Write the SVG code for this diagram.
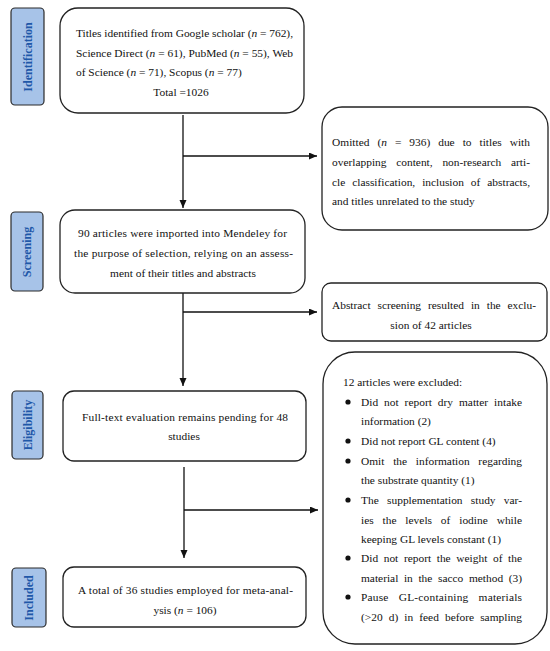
<svg xmlns="http://www.w3.org/2000/svg" width="550" height="651" viewBox="0 0 550 651">
<defs>
<style>
.box{fill:#fff;stroke:#222;stroke-width:1.3}
.lab{fill:#a7c3e8;stroke:#2a2a2a;stroke-width:1.2}
.lt{font-family:"Liberation Serif",serif;font-weight:bold;font-size:12px;fill:#1f58a8;text-anchor:middle}
.t{font-family:"Liberation Serif",serif;font-size:11.4px;fill:#111}
.c{text-anchor:middle}
.con{fill:none;stroke:#111;stroke-width:1.3}
</style>
<marker id="ah" markerUnits="userSpaceOnUse" markerWidth="9" markerHeight="8" refX="8" refY="3.5" orient="auto">
<path d="M0,0 L8,3.5 L0,7 z" fill="#111"/>
</marker>
</defs>
<rect width="550" height="651" fill="#fff"/>

<g id="label-identification">
<rect class="lab" x="11" y="8" width="33" height="97" rx="4"/>
<text class="lt" transform="translate(31.5,57) rotate(-90)">Identification</text>
</g>
<g id="label-screening">
<rect class="lab" x="11" y="212" width="32" height="79" rx="4"/>
<text class="lt" transform="translate(31,252) rotate(-90)">Screening</text>
</g>
<g id="label-eligibility">
<rect class="lab" x="12" y="391" width="31" height="68" rx="4"/>
<text class="lt" transform="translate(31.5,425) rotate(-90)">Eligibility</text>
</g>
<g id="label-included">
<rect class="lab" x="12" y="568" width="34" height="59" rx="4"/>
<text class="lt" transform="translate(33,598) rotate(-90)">Included</text>
</g>

<g id="connectors">
<path class="con" d="M183,115 V208" marker-end="url(#ah)"/>
<path class="con" d="M183,156 H317" marker-end="url(#ah)"/>
<path class="con" d="M183,293 V386" marker-end="url(#ah)"/>
<path class="con" d="M183,312 H317" marker-end="url(#ah)"/>
<path class="con" d="M184,467 V558" marker-end="url(#ah)"/>
<path class="con" d="M184,510 H318" marker-end="url(#ah)"/>
</g>

<g id="node-identified">
<rect class="box" x="60" y="8" width="244" height="105" rx="18"/>
<text class="t" x="76" y="37" textLength="217" lengthAdjust="spacing">Titles identified from Google scholar (<tspan font-style="italic">n</tspan> = 762),</text>
<text class="t" x="76" y="57" textLength="217" lengthAdjust="spacing">Science Direct (<tspan font-style="italic">n</tspan> = 61), PubMed (<tspan font-style="italic">n</tspan> = 55), Web</text>
<text class="t" x="76" y="76">of Science (<tspan font-style="italic">n</tspan> = 71), Scopus (<tspan font-style="italic">n</tspan> = 77)</text>
<text class="t c" x="181" y="96">Total =1026</text>
</g>

<g id="node-omitted">
<rect class="box" x="322" y="107" width="226" height="123" rx="20"/>
<text class="t" x="332" y="146" word-spacing="5.1" textLength="198" lengthAdjust="spacing">Omitted (<tspan font-style="italic">n</tspan> = 936) due to titles with</text>
<text class="t" x="332" y="166" word-spacing="6.9" textLength="198" lengthAdjust="spacing">overlapping content, non-research arti-</text>
<text class="t" x="332" y="186" word-spacing="4.1" textLength="198" lengthAdjust="spacing">cle classification, inclusion of abstracts,</text>
<text class="t" x="332" y="205">and titles unrelated to the study</text>
</g>

<g id="node-screening">
<rect class="box" x="60" y="210" width="245" height="83" rx="15"/>
<text class="t" x="78" y="237" textLength="209" lengthAdjust="spacing">90 articles were imported into Mendeley for</text>
<text class="t" x="74" y="257" textLength="219" lengthAdjust="spacing">the purpose of selection, relying on an assess-</text>
<text class="t c" x="183" y="277">ment of their titles and abstracts</text>
</g>

<g id="node-abstract-excluded">
<rect class="box" x="322" y="283" width="225" height="58" rx="9"/>
<text class="t" x="332" y="309" word-spacing="4.1" textLength="204" lengthAdjust="spacing">Abstract screening resulted in the exclu-</text>
<text class="t c" x="431" y="329">sion of 42 articles</text>
</g>

<g id="node-fulltext">
<rect class="box" x="63" y="391" width="243" height="70" rx="11"/>
<text class="t c" x="185" y="421" textLength="206" lengthAdjust="spacing">Full-text evaluation remains pending for 48</text>
<text class="t c" x="184" y="440">studies</text>
</g>

<g id="node-excluded-12">
<rect class="box" x="323" y="352" width="224" height="292" rx="32"/>
<text class="t" x="343" y="386">12 articles were excluded:</text>
<g fill="#111">
<circle cx="348" cy="402" r="2.6"/>
<circle cx="348" cy="441" r="2.6"/>
<circle cx="348" cy="461" r="2.6"/>
<circle cx="348" cy="500" r="2.6"/>
<circle cx="348" cy="558" r="2.6"/>
<circle cx="348" cy="597" r="2.6"/>
</g>
<text class="t" x="361" y="406" word-spacing="3.1" textLength="161" lengthAdjust="spacing">Did not report dry matter intake</text>
<text class="t" x="361" y="425">information (2)</text>
<text class="t" x="361" y="445">Did not report GL content (4)</text>
<text class="t" x="361" y="465" word-spacing="5.9" textLength="161" lengthAdjust="spacing">Omit the information regarding</text>
<text class="t" x="361" y="484">the substrate quantity (1)</text>
<text class="t" x="361" y="504" word-spacing="5.4" textLength="161" lengthAdjust="spacing">The supplementation study var-</text>
<text class="t" x="361" y="524" word-spacing="6" textLength="161" lengthAdjust="spacing">ies the levels of iodine while</text>
<text class="t" x="361" y="543">keeping GL levels constant (1)</text>
<text class="t" x="361" y="562" word-spacing="2.8" textLength="161" lengthAdjust="spacing">Did not report the weight of the</text>
<text class="t" x="361" y="582" word-spacing="2.8" textLength="161" lengthAdjust="spacing">material in the sacco method (3)</text>
<text class="t" x="361" y="601" word-spacing="7" textLength="161" lengthAdjust="spacing">Pause GL-containing materials</text>
<text class="t" x="361" y="621" word-spacing="3.2" textLength="161" lengthAdjust="spacing">(&gt;20 d) in feed before sampling</text>
</g>

<g id="node-included">
<rect class="box" x="63" y="567" width="243" height="60" rx="11"/>
<text class="t c" x="185.5" y="594" textLength="215" lengthAdjust="spacing">A total of 36 studies employed for meta-anal-</text>
<text class="t c" x="185" y="614">ysis (<tspan font-style="italic">n</tspan> = 106)</text>
</g>
</svg>
